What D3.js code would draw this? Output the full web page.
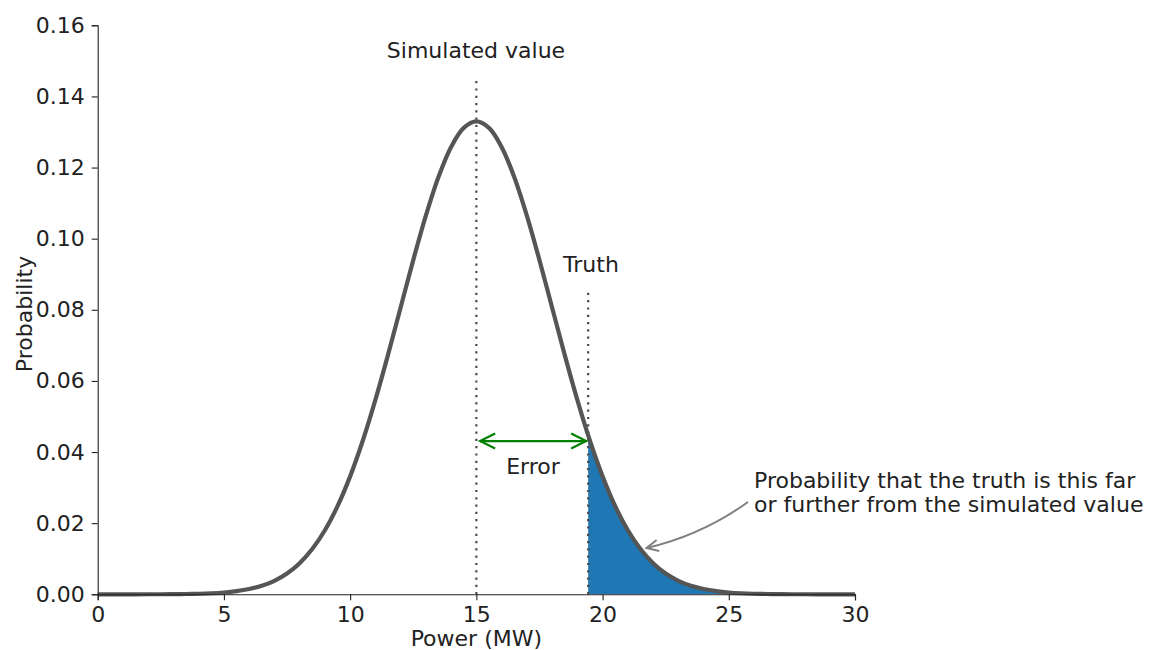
<!DOCTYPE html>
<html><head><meta charset="utf-8">
<script src="https://cdn.jsdelivr.net/npm/d3@7"></script>
<style>body{margin:0;background:#fff}svg{display:block}text{font-family:"DejaVu Sans",sans-serif;fill:#222}</style>
</head><body><svg id="c" width="1151" height="650"></svg>
<script>
// Curve values (probability density at each power)
const powerMW = [0,0.5,1,1.5,2,2.5,3,3.5,4,4.5,5,5.5,6,6.5,7,7.5,8,8.5,9,9.5,10,10.5,11,11.5,12,12.5,13,13.5,14,14.5,15,
  15.5,16,16.5,17,17.5,18,18.5,19,19.5,20,20.5,21,21.5,22,22.5,23,23.5,24,24.5,25,25.5,26,26.5,27,27.5,28,28.5,29,29.5,30];
const probability = [0,0,0,0,0.00001,0.00002,0.00004,0.00009,0.00016,0.00029,0.00051,0.00088,0.00148,0.0024,0.0038,0.00584,0.00874,0.01272,0.018,0.02477,0.03316,0.04317,0.05467,0.06733,0.08066,0.09397,0.10648,0.11735,0.12579,0.13115,0.13298,
  0.13115,0.12579,0.11735,0.10648,0.09397,0.08066,0.06733,0.05467,0.04317,0.03316,0.02477,0.018,0.01272,0.00874,0.00584,0.0038,0.0024,0.00148,0.00088,0.00051,0.00029,0.00016,0.00009,0.00004,0.00002,0.00001,0,0,0,0];
const xTicks = [0,5,10,15,20,25,30];
const yTicks = [0,0.02,0.04,0.06,0.08,0.10,0.12,0.14,0.16];
const simulatedValue = 15;
const truthValue = 19.43;
const errorArrow = {x0:15.15, x1:19.35, y:0.0431};

const svg = d3.select("#c");
const x = d3.scaleLinear().domain([0,30]).range([97.7,855]);
const y = d3.scaleLinear().domain([0,0.16]).range([594.3,25.3]);
const FS = 22;

const pts = powerMW.map((p,i)=>[p, probability[i]]);

svg.append("defs").append("clipPath").attr("id","tail").append("rect")
  .attr("x", x(truthValue)).attr("y", 0).attr("width", x(30)-x(truthValue)).attr("height", y(0));

const area = d3.area().x(d=>x(d[0])).y0(y(0)).y1(d=>y(d[1])).curve(d3.curveCatmullRom);
svg.append("path").datum(pts).attr("d", area).attr("fill","#1f77b4").attr("clip-path","url(#tail)");

svg.append("line").attr("x1",x(simulatedValue)).attr("x2",x(simulatedValue)).attr("y1",y(0)).attr("y2",78)
  .attr("stroke","#4a4a4a").attr("stroke-width",2.2).attr("stroke-dasharray","2.2,5.1");
svg.append("line").attr("x1",x(truthValue)).attr("x2",x(truthValue)).attr("y1",y(0)).attr("y2",291)
  .attr("stroke","#4a4a4a").attr("stroke-width",2.2).attr("stroke-dasharray","2.2,5.1");

const line = d3.line().x(d=>x(d[0])).y(d=>y(d[1])).curve(d3.curveCatmullRom);
svg.append("path").datum(pts).attr("d", line).attr("fill","none").attr("stroke","#555").attr("stroke-width",4.2);

const gx = svg.append("g").attr("transform",`translate(0,${y(0)})`)
  .call(d3.axisBottom(x).tickValues(xTicks).tickSize(6).tickPadding(6).tickFormat(d3.format("d")));
const gy = svg.append("g").attr("transform",`translate(${x(0)},0)`)
  .call(d3.axisLeft(y).tickValues(yTicks).tickSize(6).tickPadding(7).tickFormat(d3.format(".2f")));
[gx,gy].forEach(g=>{
  g.selectAll("path").attr("stroke","#222").attr("stroke-width",1.1);
  g.selectAll("line").attr("stroke","#222").attr("stroke-width",1.1);
  g.selectAll("text").attr("font-size",FS).attr("font-family","DejaVu Sans").attr("fill","#222");
});

svg.append("text").attr("x",(x(0)+x(30))/2).attr("y",646).attr("text-anchor","middle").attr("font-size",FS).text("Power (MW)");
svg.append("text").attr("transform","translate(32,314) rotate(-90)").attr("text-anchor","middle").attr("font-size",FS).text("Probability");

svg.append("text").attr("x",476).attr("y",58).attr("text-anchor","middle").attr("font-size",FS).text("Simulated value");
svg.append("text").attr("x",591).attr("y",272).attr("text-anchor","middle").attr("font-size",FS).text("Truth");
svg.append("text").attr("x",533).attr("y",474).attr("text-anchor","middle").attr("font-size",FS).text("Error");

const ay = y(errorArrow.y), ax0 = x(errorArrow.x0), ax1 = x(errorArrow.x1);
const green = "#008000";
svg.append("line").attr("x1",ax0).attr("x2",ax1).attr("y1",ay).attr("y2",ay).attr("stroke",green).attr("stroke-width",2.2);
svg.append("path").attr("d",`M${ax0+15},${ay-7.5}L${ax0},${ay}L${ax0+15},${ay+7.5}`).attr("fill","none").attr("stroke",green).attr("stroke-width",2.2);
svg.append("path").attr("d",`M${ax1-15},${ay-7.5}L${ax1},${ay}L${ax1-15},${ay+7.5}`).attr("fill","none").attr("stroke",green).attr("stroke-width",2.2);

const ann = svg.append("text").attr("font-size",FS).attr("x",x(26)).attr("y",488);
ann.append("tspan").attr("x",x(26)).attr("y",488).text("Probability that the truth is this far");
ann.append("tspan").attr("x",x(26)).attr("y",512).text("or further from the simulated value");

const s = [748,502], e = [x(21.74), y(0.013)];
const mx=(s[0]+e[0])/2, my=(s[1]+e[1])/2, dx=e[0]-s[0], dy=e[1]-s[1];
const rad=0.1;
const c = [mx + rad*dy, my - rad*dx];
svg.append("path").attr("d",`M${s[0]},${s[1]}Q${c[0]},${c[1]} ${e[0]},${e[1]}`).attr("fill","none").attr("stroke","#808080").attr("stroke-width",2);
const ang = Math.atan2(e[1]-c[1], e[0]-c[0]);
const hl=13, ha=0.45;
const h1=[e[0]-hl*Math.cos(ang-ha), e[1]-hl*Math.sin(ang-ha)];
const h2=[e[0]-hl*Math.cos(ang+ha), e[1]-hl*Math.sin(ang+ha)];
svg.append("path").attr("d",`M${h1[0]},${h1[1]}L${e[0]},${e[1]}L${h2[0]},${h2[1]}`).attr("fill","none").attr("stroke","#808080").attr("stroke-width",2);
</script></body></html>
